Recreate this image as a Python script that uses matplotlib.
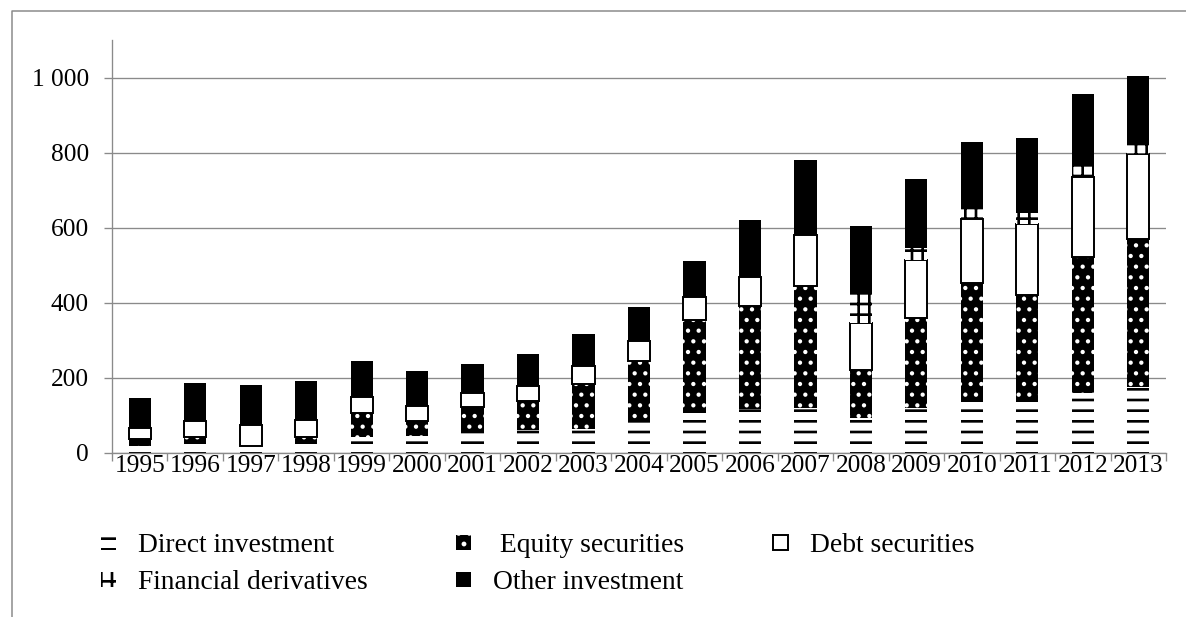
import matplotlib
matplotlib.use("Agg")
import matplotlib.pyplot as plt
from matplotlib.lines import Line2D
import numpy as np

# data
years = ["1995", "1996", "1997", "1998", "1999", "2000", "2001", "2002", "2003", "2004",
         "2005", "2006", "2007", "2008", "2009", "2010", "2011", "2012", "2013"]
direct = [19, 25, 17, 22, 43, 45, 53, 60, 62, 87, 105, 116, 118, 92, 118, 136, 136, 158, 176]
equity = [17, 16, 2, 19, 62, 40, 70, 78, 121, 158, 249, 276, 325, 128, 240, 316, 284, 363, 393]
debt = [31, 44, 55, 46, 44, 40, 37, 41, 48, 54, 60, 76, 136, 127, 156, 171, 190, 215, 227]
deriv = [0, 0, 0, 0, 0, 0, 0, 0, 0, 0, 0, 0, 0, 75, 31, 29, 30, 31, 27]
other = [78, 100, 107, 104, 95, 93, 76, 85, 86, 90, 98, 152, 202, 183, 184, 175, 200, 188, 182]

y_ticks = [0, 200, 400, 600, 800, 1000]

DPI = 64
W, H = 1186, 617
GREY = "#8a8a8a"

plt.rcParams["font.family"] = ["Liberation Serif", "DejaVu Serif"]
plt.rcParams["font.size"] = 28.5
plt.rcParams["hatch.linewidth"] = 3.0

fig = plt.figure(figsize=(W / DPI, H / DPI), dpi=DPI)
ax = fig.add_axes([112 / W, 1 - 452.7 / H, (1166 - 112) / W, (452.7 - 40) / H])

x = np.arange(len(years))
w = 0.4
bottom = np.zeros(len(years))

b1 = ax.bar(x, direct, w, bottom=bottom, facecolor="white", edgecolor="black",
            linewidth=0, hatch="-", label="Direct investment")
bottom += direct
b2 = ax.bar(x, equity, w, bottom=bottom, facecolor="black", edgecolor="white",
            linewidth=0, hatch=".", label=" Equity securities")
# white speckles of the equity pattern
for p in b2.patches:
    if hasattr(p, "set_hatch_linewidth"):
        p.set_hatch_linewidth(2.4)
bottom += equity
b3 = ax.bar(x, debt, w, bottom=bottom, facecolor="white", edgecolor="black",
            linewidth=2.2, label="Debt securities")
bottom += debt
b4 = ax.bar(x, deriv, w, bottom=bottom, facecolor="white", edgecolor="black",
            linewidth=0, hatch="+", label="Financial derivatives")
bottom += deriv
b5 = ax.bar(x, other, w, bottom=bottom, facecolor="black", edgecolor="black",
            linewidth=0, label="Other investment")

ax.set_xlim(-0.5, len(years) - 0.5)
ax.set_ylim(0, 1100)
ax.set_yticks(y_ticks)
ax.set_yticklabels([f"{v:,}".replace(",", " ") for v in y_ticks])
ax.set_xticks(x)
ax.set_xticklabels(years)
ax.set_xticks(np.arange(-0.5, len(years)), minor=True)
ax.tick_params(axis="x", which="major", length=0, pad=3)
ax.tick_params(axis="x", which="minor", length=9, width=1.5, color=GREY)
ax.tick_params(axis="y", length=9, width=1.5, color=GREY, pad=17)

ax.grid(axis="y", color=GREY, linewidth=1.5)
ax.set_axisbelow(True)
for s in ["top", "right"]:
    ax.spines[s].set_visible(False)
for s in ["left", "bottom"]:
    ax.spines[s].set_color(GREY)
    ax.spines[s].set_linewidth(1.5)

# legend laid out row by row like the original
handles = [b1, b4, b2, b5, b3]
ax.legend(handles=handles, labels=[h.get_label() for h in handles], ncol=3,
          loc="upper left", bbox_to_anchor=(101 / W, 1 - 533 / H),
          bbox_transform=fig.transFigure, frameon=False, borderpad=0,
          borderaxespad=0, fontsize=31, handlelength=0.55, handleheight=0.45,
          handletextpad=0.8, columnspacing=3.2, labelspacing=0.45)

# outer chart frame (only top and left visible)
fig.add_artist(Line2D([12 / W, 12 / W, 1.0], [0.0, 1 - 11 / H, 1 - 11 / H],
                      transform=fig.transFigure, color=GREY, linewidth=1.7))

fig.savefig("out.png", dpi=DPI)
